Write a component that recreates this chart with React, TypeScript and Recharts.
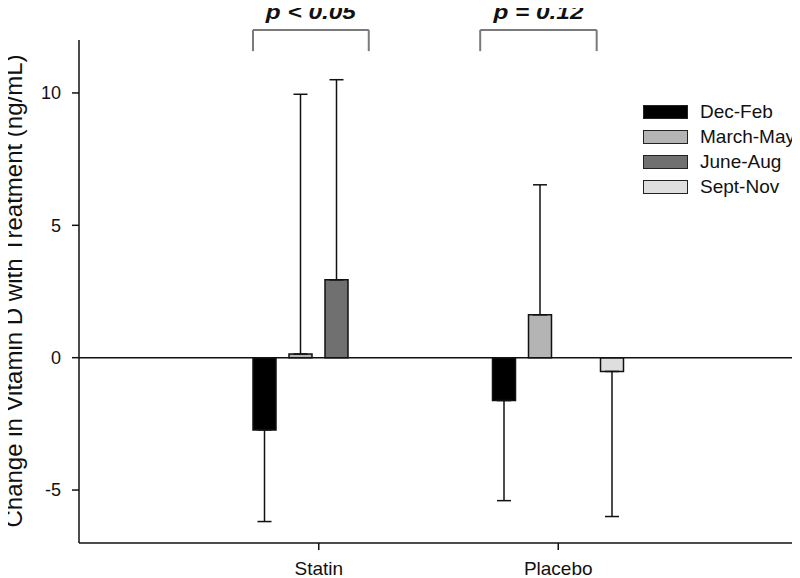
import { BarChart, Bar, XAxis, YAxis, ErrorBar, ReferenceLine, Legend } from "recharts";

const FONT = '"Liberation Sans", Arial, sans-serif';

const groups = ["Statin", "Placebo"];
const seasons = ["Dec-Feb", "March-May", "June-Aug", "Sept-Nov"];
const seasonKeys = ["decFeb", "marchMay", "juneAug", "septNov"];
const seasonColors = ["#000000", "#b4b4b4", "#707070", "#dedede"];

// mean change per group (Statin, Placebo)
const decFeb = [-2.73, -1.62];
const marchMay = [0.14, 1.62];
const juneAug = [2.94, 0];
const septNov = [0, -0.52];

// error bars are one-sided, drawn away from zero
const decFebErr = [3.46, 3.78];
const marchMayErr = [9.81, 4.91];
const juneAugErr = [7.56, 5.55];
const septNovErr = [6.8, 5.48];

const yTicks = [-5, 0, 5, 10];
const yDomain = [-7, 12];

// significance brackets, x as a fraction of the plot width (groups at 1/3 and 2/3)
const pLabels = ["p < 0.05", "p = 0.12"];
const bracketLeft = [0.242, 0.558];
const bracketRight = [0.403, 0.72];
const bracketTop = 12.38;
const bracketBottom = 11.58;

const oneSided = (v: number, e: number) => (v < 0 ? [e, 0] : [0, e]);

const seriesValues = [decFeb, marchMay, juneAug, septNov];
const seriesErrs = [decFebErr, marchMayErr, juneAugErr, septNovErr];

const data = groups.map((group, i) => {
  const row: Record<string, any> = { group };
  seasonKeys.forEach((k, s) => {
    row[k] = seriesValues[s][i];
    row[k + "Err"] = oneSided(seriesValues[s][i], seriesErrs[s][i]);
  });
  return row;
});

const renderYLabel = () => {
  const cx = 21.5;
  const cy = 291;
  return (
    <text
      x={cx}
      y={cy}
      transform={`rotate(-90, ${cx}, ${cy})`}
      textAnchor="middle"
      fontSize={24}
      fill="#111"
      fontFamily={FONT}
    >
      Change in Vitamin D with Treatment (ng/mL)
    </text>
  );
};

const pLabelContent = (text: string) => (props: any) => {
  const vb = props.viewBox || {};
  const x = (vb.x ?? 0) + (vb.width ?? 0) / 2;
  const y = (vb.y ?? 0) - 11.2;
  return (
    <text
      x={x}
      y={y}
      textAnchor="middle"
      fontSize={19.5}
      fontWeight="bold"
      fontStyle="italic"
      textLength={90}
      lengthAdjust="spacingAndGlyphs"
      fill="#111"
      fontFamily={FONT}
    >
      {text}
    </text>
  );
};

function SeasonLegend() {
  return (
    <div style={{ fontFamily: FONT, fontSize: 19, color: "#111" }}>
      {seasons.map((s, i) => (
        <div key={s} style={{ display: "flex", alignItems: "center", height: 25 }}>
          <span
            style={{
              display: "inline-block",
              width: 43,
              height: 12,
              background: seasonColors[i],
              border: "1.5px solid #222",
              marginRight: 12,
            }}
          />
          <span>{s}</span>
        </div>
      ))}
    </div>
  );
}

export default function App() {
  return (
    <div style={{ marginLeft: -8, marginTop: -8, background: "#fff" }}>
      <BarChart
        width={800}
        height={578}
        data={data}
        margin={{ top: 40, right: 2, left: 0, bottom: 0 }}
        barSize={23}
        barGap={13}
        style={{ fontFamily: FONT }}
      >
        <XAxis
          dataKey="group"
          padding={{ left: 120, right: 120 }}
          height={35}
          tickSize={7}
          tickMargin={12}
          axisLine={{ stroke: "#111", strokeWidth: 1.5 }}
          tickLine={{ stroke: "#111", strokeWidth: 1.5 }}
          tick={{ fill: "#111", fontSize: 19 }}
        />
        <XAxis xAxisId="frac" type="number" domain={[0, 1]} allowDataOverflow hide />
        <YAxis
          domain={yDomain}
          ticks={yTicks}
          width={79}
          tickSize={7}
          tickMargin={11}
          allowDataOverflow
          axisLine={{ stroke: "#111", strokeWidth: 1.5 }}
          tickLine={{ stroke: "#111", strokeWidth: 1.5 }}
          tick={{ fill: "#111", fontSize: 18 }}
          label={renderYLabel}
        />
        <Legend
          layout="horizontal"
          verticalAlign="middle"
          wrapperStyle={{ top: 99, left: 643, width: 157 }}
          content={<SeasonLegend />}
        />
        {seasonKeys.map((k, i) => (
          <Bar
            key={k}
            dataKey={k}
            name={seasons[i]}
            fill={seasonColors[i]}
            stroke="#111"
            strokeWidth={1.5}
            isAnimationActive={false}
          >
            <ErrorBar
              dataKey={k + "Err"}
              direction="y"
              width={7}
              stroke="#111"
              strokeWidth={1.5}
              isAnimationActive={false}
            />
          </Bar>
        ))}
        <ReferenceLine y={0} stroke="#111" strokeWidth={1.5} />
        {pLabels.map((p, i) => (
          <ReferenceLine
            key={p + "-top"}
            xAxisId="frac"
            ifOverflow="visible"
            stroke="#7a7a7a"
            strokeWidth={2}
            segment={[
              { x: bracketLeft[i], y: bracketTop },
              { x: bracketRight[i], y: bracketTop },
            ]}
            label={pLabelContent(p)}
          />
        ))}
        {pLabels.map((p, i) => (
          <ReferenceLine
            key={p + "-left"}
            xAxisId="frac"
            ifOverflow="visible"
            stroke="#7a7a7a"
            strokeWidth={2}
            segment={[
              { x: bracketLeft[i], y: bracketTop },
              { x: bracketLeft[i], y: bracketBottom },
            ]}
          />
        ))}
        {pLabels.map((p, i) => (
          <ReferenceLine
            key={p + "-right"}
            xAxisId="frac"
            ifOverflow="visible"
            stroke="#7a7a7a"
            strokeWidth={2}
            segment={[
              { x: bracketRight[i], y: bracketTop },
              { x: bracketRight[i], y: bracketBottom },
            ]}
          />
        ))}
      </BarChart>
    </div>
  );
}
